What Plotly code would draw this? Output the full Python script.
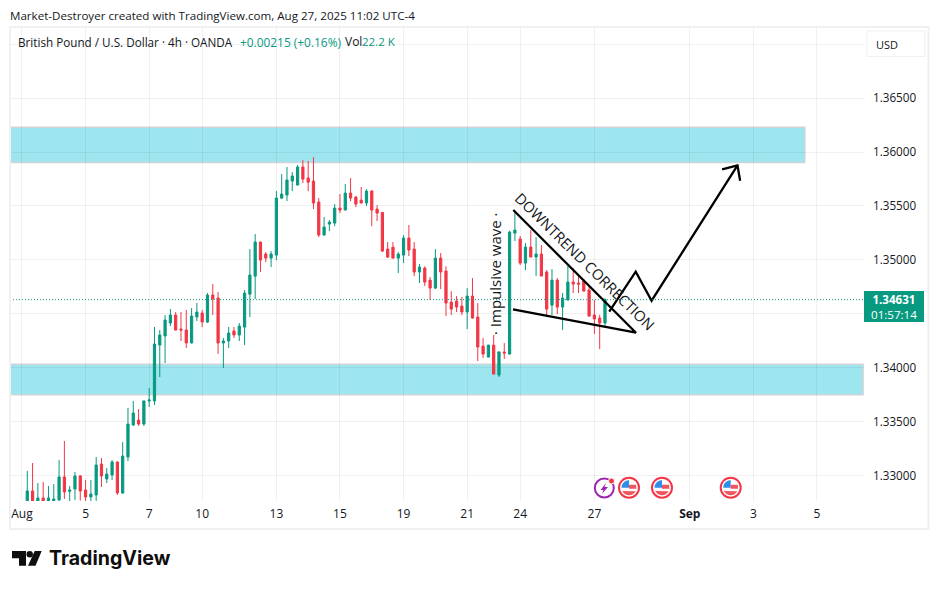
"""GBP/USD 4h chart with hand-drawn zones and wave markup."""

import math

import plotly.graph_objects as go

# --- data: one entry per 4h bar ---------------------------------------------------

opens = [
    1.32757, 1.32856, 1.32757, 1.32791, 1.32757, 1.32766, 1.32772, 1.32986, 1.32853, 1.32874,
    1.32995, 1.32865, 1.32800, 1.32819, 1.33106, 1.32967, 1.33004, 1.33125, 1.32837, 1.33171,
    1.33468, 1.33514, 1.33477, 1.33691, 1.33691, 1.34210, 1.34294, 1.34414, 1.34488, 1.34358,
    1.34349, 1.34229, 1.34470, 1.34507, 1.34423, 1.34674, 1.34646, 1.34229, 1.34247, 1.34340,
    1.34303, 1.34376, 1.34682, 1.34849, 1.35165, 1.35054, 1.35016, 1.35044, 1.35573, 1.35601,
    1.35731, 1.35694, 1.35861, 1.35759, 1.35731, 1.35536, 1.35230, 1.35332, 1.35341, 1.35480,
    1.35462, 1.35619, 1.35582, 1.35554, 1.35527, 1.35638, 1.35471, 1.35440, 1.35100, 1.35118,
    1.35016, 1.35044, 1.35202, 1.35100, 1.34887, 1.34924, 1.34812, 1.34738, 1.35016, 1.34896,
    1.34608, 1.34618, 1.34571, 1.34516, 1.34664, 1.34469, 1.34200, 1.34098, 1.34209, 1.33931,
    1.34145, 1.34126, 1.35248, 1.35193, 1.34970, 1.35119, 1.35026, 1.35054, 1.34887, 1.34580,
    1.34812, 1.34562, 1.34627, 1.34794, 1.34785, 1.34803, 1.34720, 1.34488, 1.34460, 1.34414,
]
highs = [
    1.33041, 1.33115, 1.32930, 1.32939, 1.32902, 1.32921, 1.33143, 1.33320, 1.32902, 1.33032,
    1.33004, 1.32958, 1.32958, 1.33171, 1.33162, 1.33069, 1.33143, 1.33130, 1.33310, 1.33626,
    1.33691, 1.33616, 1.33695, 1.33811, 1.34377, 1.34349, 1.34488, 1.34544, 1.34516, 1.34516,
    1.34535, 1.34553, 1.34600, 1.34535, 1.34692, 1.34776, 1.34702, 1.34275, 1.34377, 1.34377,
    1.34414, 1.34720, 1.35100, 1.35239, 1.35170, 1.35072, 1.35081, 1.35638, 1.35796, 1.35861,
    1.35814, 1.35879, 1.35925, 1.35916, 1.35953, 1.35573, 1.35397, 1.35369, 1.35517, 1.35610,
    1.35703, 1.35759, 1.35592, 1.35675, 1.35656, 1.35647, 1.35508, 1.35443, 1.35165, 1.35165,
    1.35072, 1.35230, 1.35323, 1.35165, 1.34961, 1.34940, 1.34840, 1.35100, 1.35063, 1.34939,
    1.34710, 1.34664, 1.34655, 1.34738, 1.34831, 1.34599, 1.34274, 1.34212, 1.34302, 1.34154,
    1.34228, 1.35270, 1.35452, 1.35221, 1.35156, 1.35276, 1.35211, 1.35137, 1.34905, 1.34914,
    1.34831, 1.34692, 1.34942, 1.34924, 1.34868, 1.34822, 1.34766, 1.34627, 1.34490, 1.34645,
]
lows = [
    1.32710, 1.32710, 1.32710, 1.32710, 1.32710, 1.32710, 1.32766, 1.32782, 1.32757, 1.32772,
    1.32766, 1.32757, 1.32757, 1.32757, 1.32893, 1.32930, 1.32958, 1.32819, 1.32830, 1.33134,
    1.33459, 1.33459, 1.33459, 1.33635, 1.33653, 1.33913, 1.34043, 1.34386, 1.34345, 1.34247,
    1.34182, 1.34225, 1.34433, 1.34377, 1.34414, 1.34488, 1.34127, 1.33997, 1.34182, 1.34275,
    1.34247, 1.34209, 1.34469, 1.34636, 1.34887, 1.34979, 1.34933, 1.34998, 1.35564, 1.35545,
    1.35638, 1.35690, 1.35712, 1.35638, 1.35471, 1.35211, 1.35228, 1.35267, 1.35313, 1.35434,
    1.35460, 1.35545, 1.35490, 1.35525, 1.35499, 1.35313, 1.35360, 1.35072, 1.35016, 1.35014,
    1.34877, 1.34970, 1.35035, 1.34849, 1.34785, 1.34757, 1.34627, 1.34729, 1.34729, 1.34478,
    1.34488, 1.34516, 1.34488, 1.34358, 1.34455, 1.34061, 1.34089, 1.34095, 1.33938, 1.33913,
    1.34080, 1.34120, 1.35174, 1.34952, 1.34905, 1.35024, 1.34850, 1.34848, 1.34469, 1.34488,
    1.34497, 1.34349, 1.34625, 1.34692, 1.34692, 1.34708, 1.34475, 1.34311, 1.34172, 1.34376,
]
closes = [
    1.32856, 1.32757, 1.32791, 1.32757, 1.32791, 1.32782, 1.32986, 1.32847, 1.32865, 1.32995,
    1.32856, 1.32800, 1.32828, 1.33097, 1.32995, 1.33013, 1.33125, 1.32837, 1.33180, 1.33477,
    1.33579, 1.33477, 1.33691, 1.33700, 1.34219, 1.34303, 1.34442, 1.34488, 1.34349, 1.34349,
    1.34229, 1.34479, 1.34516, 1.34423, 1.34674, 1.34637, 1.34229, 1.34247, 1.34321, 1.34303,
    1.34386, 1.34692, 1.34859, 1.35165, 1.34998, 1.35016, 1.35054, 1.35573, 1.35610, 1.35740,
    1.35777, 1.35861, 1.35749, 1.35721, 1.35527, 1.35230, 1.35304, 1.35350, 1.35480, 1.35462,
    1.35619, 1.35573, 1.35517, 1.35527, 1.35638, 1.35462, 1.35434, 1.35081, 1.35026, 1.35016,
    1.35054, 1.35202, 1.35091, 1.34887, 1.34933, 1.34794, 1.34738, 1.35016, 1.34887, 1.34599,
    1.34543, 1.34562, 1.34516, 1.34664, 1.34460, 1.34191, 1.34126, 1.34209, 1.33940, 1.34145,
    1.34135, 1.35258, 1.35276, 1.34970, 1.35119, 1.35026, 1.35054, 1.34850, 1.34543, 1.34812,
    1.34562, 1.34645, 1.34794, 1.34775, 1.34775, 1.34710, 1.34478, 1.34451, 1.34414, 1.34631,
]

date_ticks = [-1, 11, 23, 33, 47, 59, 71, 83, 93, 107, 125, 137, 149]
date_labels = ["Aug", "5", "7", "10", "13", "15", "19", "21", "24", "27", "<b>Sep</b>", "3", "5"]

price_ticks = [1.33, 1.335, 1.34, 1.345, 1.35, 1.355, 1.36, 1.365, 1.37]
price_labels = ["1.33000", "1.33500", "1.34000", "", "1.35000", "1.35500", "1.36000", "1.36500", ""]

last_price = 1.34631

# зоны и разметка: (бар, цена)
upper_zone = (-3.26, 146.7, 1.35904, 1.36229)
lower_zone = (-3.26, 157.7, 1.33749, 1.34031)
wedge_bars = [91.64, 114.85, 91.7]
wedge_prices = [1.34540, 1.34324, 1.35462]
path_bars = [109.8, 114.8, 117.8, 134.0]
path_prices = [1.34519, 1.34890, 1.34621, 1.35877]
head_bars = [131.1, 134.0, 134.5]
head_prices = [1.35840, 1.35877, 1.35734]

GREEN = "#089981"
RED = "#F23645"
GRID = "rgba(42,46,57,0.07)"
FRAME = "#F0F0F0"
TEXT = "#131722"
FONT = "Open Sans"

WIDTH, HEIGHT = 939, 589
LEFT, RIGHT, TOP, BOTTOM = 10, 864, 27, 501


def px_x(x):
    return (x - LEFT) / (RIGHT - LEFT)


def px_y(y):
    return (BOTTOM - y) / (BOTTOM - TOP)


def poly(points):
    parts = [f"{px_x(x):.5f},{px_y(y):.5f}" for x, y in points]
    return "M" + " L".join(parts) + " Z"


def page_poly(fig, points, color):
    fig.add_shape(type="path", path=poly(points), xref="paper", yref="paper",
                  fillcolor=color, line=dict(width=0))


def page_circle(fig, cx, cy, r, fill="rgba(0,0,0,0)", line=None, width=0):
    fig.add_shape(type="circle", xref="paper", yref="paper",
                  x0=px_x(cx - r), x1=px_x(cx + r), y0=px_y(cy + r), y1=px_y(cy - r),
                  fillcolor=fill, line=dict(color=line or fill, width=width))


def page_text(fig, x, y, text, size=12, color=TEXT, anchor="left", family=FONT):
    # у подписи есть внутренний отступ в 2px — компенсируем
    x = x - 2 if anchor == "left" else x
    fig.add_annotation(x=px_x(x), y=px_y(y), xref="paper", yref="paper", text=text,
                       showarrow=False, xanchor=anchor, yanchor="middle",
                       font=dict(family=family, size=size, color=color))


def add_flag(fig, cx, cy):
    # кружок-событие: кольцо и упрощённый флаг внутри
    page_circle(fig, cx, cy, 10, fill="white", line=RED, width=2)
    r = 7.5
    canton = [(cx + r * math.cos(a / 10), cy + r * math.sin(a / 10)) for a in range(-31, -15)]
    page_poly(fig, canton + [(cx, cy - r), (cx, cy), (cx - r, cy)], "#2F8FE8")
    page_poly(fig, [(cx, cy - 3), (cx + 7, cy - 3), (cx + 7.5, cy + 1), (cx, cy + 1)], "#F0565F")
    lower = [(cx + r * math.cos(a / 10), cy + r * math.sin(a / 10)) for a in range(5, 28)]
    page_poly(fig, lower, "#F0565F")


fig = go.Figure()

fig.add_trace(go.Candlestick(
    x=list(range(len(opens))),
    open=opens,
    high=highs,
    low=lows,
    close=closes,
    whiskerwidth=0,
    increasing=dict(line=dict(color=GREEN, width=1), fillcolor=GREEN),
    decreasing=dict(line=dict(color=RED, width=1), fillcolor=RED),
    showlegend=False,
))

for xs, ys in [(wedge_bars, wedge_prices), (path_bars, path_prices), (head_bars, head_prices)]:
    fig.add_trace(go.Scatter(x=xs, y=ys, mode="lines", showlegend=False,
                             line=dict(color="#000000", width=2.3)))

for x0, x1, y0, y1 in (upper_zone, lower_zone):
    fig.add_shape(type="rect", x0=x0, x1=x1, y0=y0, y1=y1, layer="below",
                  fillcolor="rgba(0,188,212,0.38)", line=dict(color="#CFD4D8", width=1.5))

fig.add_shape(type="line", xref="paper", x0=0, x1=1, y0=last_price, y1=last_price,
              line=dict(color=GREEN, width=1, dash="1px,2px"))

# рамка вокруг графика и шкала справа
fig.add_shape(type="rect", xref="paper", yref="paper",
              x0=px_x(10), x1=px_x(928.5), y0=px_y(529), y1=px_y(27),
              line=dict(color=FRAME, width=2))
fig.add_shape(type="rect", xref="paper", yref="paper",
              x0=px_x(864), x1=px_x(924), y0=px_y(322), y1=px_y(291),
              fillcolor=GREEN, line=dict(width=0))
fig.add_shape(type="rect", xref="paper", yref="paper",
              x0=px_x(867), x1=px_x(925), y0=px_y(56.5), y1=px_y(31),
              fillcolor="white", line=dict(color=FRAME, width=1))

page_text(fig, 10, 15, "Market-Destroyer created with TradingView.com, Aug 27, 2025 11:02 UTC-4", size=11.6)
page_text(fig, 18, 42, "British Pound / U.S. Dollar · 4h · OANDA", size=11.7)
page_text(fig, 240, 42, "+0.00215 (+0.16%)", size=11.9, color=GREEN)
page_text(fig, 345, 42, "Vol", size=12)
page_text(fig, 362, 42, "22.2 K", size=11.5, color=GREEN)
page_text(fig, 876, 44.5, "USD", size=11)
page_text(fig, 894, 307, "<b>1.34631</b><br>01:57:14", size=11.6, color="white", anchor="center")

fig.add_annotation(x=px_x(585), y=px_y(261), xref="paper", yref="paper", showarrow=False,
                   xanchor="center", yanchor="middle",
                   text="DOWNTREND CORRECTION", textangle=44.5,
                   font=dict(family=FONT, size=14.7, color=TEXT))
fig.add_annotation(x=px_x(495), y=px_y(273), xref="paper", yref="paper", showarrow=False,
                   xanchor="center", yanchor="middle",
                   text="· Impulsive wave ·", textangle=-90,
                   font=dict(family=FONT, size=15, color=TEXT))

# значки событий внизу
page_circle(fig, 604.3, 488, 9.5, fill="white", line="#9C27B0", width=2)
page_circle(fig, 611.5, 481, 3, fill=RED, line="white", width=1)
page_poly(fig, [(606, 483), (600.5, 490), (603.5, 490), (602, 494), (608, 487), (604.5, 487)], "#9C27B0")
for cx in (629, 662, 730.7):
    add_flag(fig, cx, 487.7)

# логотип
page_poly(fig, [(12, 551), (26, 551), (26, 565.7), (19, 565.7), (19, 558.3), (12, 558.3)], "#0F0F0F")
page_circle(fig, 29.7, 554.3, 3.2, fill="#0F0F0F")
page_poly(fig, [(34.7, 551), (41.7, 551), (35.5, 565.7), (28, 565.7)], "#0F0F0F")
page_text(fig, 49, 558, "<b>TradingView</b>", size=19.6, color="#0F0F0F", family="Inter")

fig.update_xaxes(
    range=[-3.26, 157.87],
    tickmode="array",
    tickvals=date_ticks,
    ticktext=date_labels,
    showgrid=True,
    gridcolor=GRID,
    gridwidth=1,
    zeroline=False,
    showline=False,
    rangeslider=dict(visible=False),
    ticks="",
    ticklabelstandoff=4,
    tickfont=dict(family=FONT, size=12, color=TEXT),
)
fig.update_yaxes(
    range=[1.32763, 1.37160],
    side="right",
    tickmode="array",
    tickvals=price_ticks,
    ticktext=price_labels,
    showgrid=True,
    gridcolor=GRID,
    gridwidth=1,
    zeroline=False,
    showline=False,
    ticks="",
    ticklabelstandoff=8,
    tickfont=dict(family=FONT, size=11.7, color=TEXT),
)
fig.update_layout(
    width=WIDTH,
    height=HEIGHT,
    autosize=False,
    margin=dict(l=LEFT, r=WIDTH - RIGHT, t=TOP, b=HEIGHT - BOTTOM, pad=0),
    paper_bgcolor="white",
    plot_bgcolor="white",
    boxgap=0.4,
    showlegend=False,
    font=dict(family=FONT, color=TEXT),
)

fig.write_html(
    "out.html",
    config={"displayModeBar": False},
    post_script="document.body.style.margin='0';document.body.style.overflow='hidden';",
)
